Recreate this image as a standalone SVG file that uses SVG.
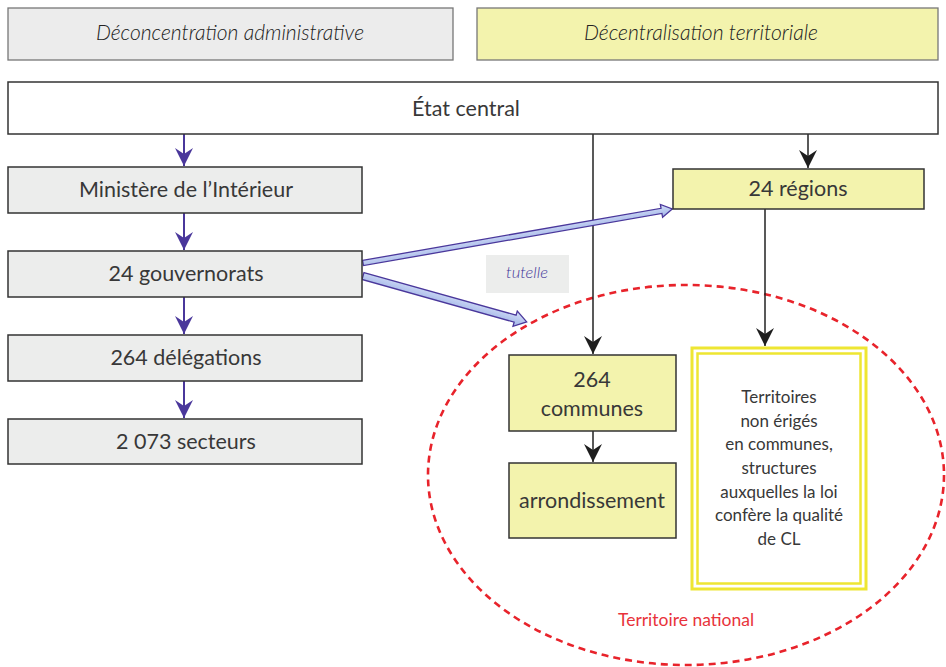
<svg xmlns="http://www.w3.org/2000/svg" width="946" height="667" viewBox="0 0 946 667">
  <defs>
    <style>
      .lbl { font-family: Lato, "Open Sans", "Liberation Sans", sans-serif; font-weight: 400; fill: #383838; text-anchor: middle; }
      .head { font-style: italic; font-weight: 300; font-size: 21px; fill: #222; }
      .gray { fill: #ecedec; stroke: #333; stroke-width: 1.5; }
      .yel { fill: #f3f3ad; stroke: #333; stroke-width: 1.5; }
      .purple { stroke: #4a379b; stroke-width: 2; fill: none; }
      .black { stroke: #222; stroke-width: 1.5; fill: none; }
      .tut { fill: url(#tutGrad); stroke: #4a379b; stroke-width: 1.3; }
    </style>
    <marker id="headP" markerUnits="userSpaceOnUse" markerWidth="20" markerHeight="20" viewBox="-19 -10 20 20" refX="0" refY="0" orient="auto">
      <path d="M0,0 L-18,-9 L-12,0 L-18,9 Z" fill="#4a379b"/>
    </marker>
    <marker id="headB" markerUnits="userSpaceOnUse" markerWidth="20" markerHeight="20" viewBox="-19 -10 20 20" refX="0" refY="0" orient="auto">
      <path d="M0,0 L-18,-9 L-12,0 L-18,9 Z" fill="#1e1e1e"/>
    </marker>
    <linearGradient id="tutGrad" x1="0" y1="0" x2="0" y2="1">
      <stop offset="0" stop-color="#d6e0f8"/>
      <stop offset="1" stop-color="#9fb3e6"/>
    </linearGradient>
  </defs>

  <rect width="946" height="667" fill="#fff"/>

  <!-- column headers -->
  <g id="hdr-deconcentration">
    <rect x="8" y="8" width="445" height="52" fill="#ececec" stroke="#777" stroke-width="1.3"/>
    <text class="lbl head" x="230" y="40" textLength="268" lengthAdjust="spacingAndGlyphs">Déconcentration administrative</text>
  </g>
  <g id="hdr-decentralisation">
    <rect x="477" y="8" width="461" height="52" fill="#f3f3ad" stroke="#777" stroke-width="1.3"/>
    <text class="lbl head" x="701" y="40" textLength="234" lengthAdjust="spacingAndGlyphs">Décentralisation territoriale</text>
  </g>

  <!-- tutelle marker -->
  <g id="tutelle">
    <rect x="486" y="255" width="83" height="38" fill="#ecedec"/>
    <text x="527" y="278" font-family="Lato, 'Open Sans', sans-serif" font-style="italic" font-weight="300" font-size="16.5" fill="#43379a" text-anchor="middle">tutelle</text>
  </g>

  <!-- national territory outline -->
  <g id="territoire-national">
    <ellipse cx="686" cy="475" rx="258" ry="190" fill="none" stroke="#e8232b" stroke-width="2.6" stroke-dasharray="7 5"/>
    <text x="686" y="626" font-family="Lato, 'Open Sans', sans-serif" font-size="17.5" fill="#e8333b" text-anchor="middle">Territoire national</text>
  </g>

  <!-- connectors -->
  <g id="connectors">
    <line class="purple" x1="184" y1="134" x2="184" y2="166" marker-end="url(#headP)"/>
    <line class="purple" x1="184" y1="213" x2="184" y2="250" marker-end="url(#headP)"/>
    <line class="purple" x1="184" y1="297" x2="184" y2="334" marker-end="url(#headP)"/>
    <line class="purple" x1="184" y1="381" x2="184" y2="418" marker-end="url(#headP)"/>

    <line class="black" x1="808" y1="134" x2="808" y2="168" marker-end="url(#headB)"/>
    <line class="black" x1="593" y1="134" x2="593" y2="354" marker-end="url(#headB)"/>
    <line class="black" x1="765" y1="209" x2="765" y2="346" marker-end="url(#headB)"/>
    <line class="black" x1="593" y1="431" x2="593" y2="462" marker-end="url(#headB)"/>

    <!-- tutelle block arrows -->
    <polygon class="tut" transform="translate(363,263) rotate(-9.91)" points="0,-2.6 303,-2.6 303,-6.5 314,0 303,6.5 303,2.6 0,2.6"/>
    <polygon class="tut" transform="translate(363,276) rotate(15.67)" points="0,-3.6 158,-3.6 158,-8 170,0 158,8 158,3.6 0,3.6"/>
  </g>

  <!-- central state -->
  <g id="etat-central">
    <rect x="8" y="82" width="930" height="52" fill="#fff" stroke="#333" stroke-width="1.5"/>
    <text class="lbl" x="466" y="116" font-size="21.5">État central</text>
  </g>

  <!-- deconcentrated chain -->
  <g id="ministere">
    <rect class="gray" x="8" y="167" width="354" height="46"/>
    <text class="lbl" x="186" y="197" font-size="21.5">Ministère de l’Intérieur</text>
  </g>
  <g id="gouvernorats">
    <rect class="gray" x="8" y="251" width="354" height="46"/>
    <text class="lbl" x="186" y="281" font-size="21.5">24 gouvernorats</text>
  </g>
  <g id="delegations">
    <rect class="gray" x="8" y="335" width="354" height="46"/>
    <text class="lbl" x="186" y="365" font-size="21.5">264 délégations</text>
  </g>
  <g id="secteurs">
    <rect class="gray" x="8" y="419" width="354" height="45"/>
    <text class="lbl" x="186" y="449" font-size="21.5">2 073 secteurs</text>
  </g>

  <!-- decentralised chain -->
  <g id="regions">
    <rect class="yel" x="673" y="169" width="251" height="40"/>
    <text class="lbl" x="798" y="196" font-size="21.5">24 régions</text>
  </g>
  <g id="communes">
    <rect class="yel" x="509" y="355" width="167" height="76"/>
    <text class="lbl" x="592" y="387" font-size="21.5">264</text>
    <text class="lbl" x="592" y="416" font-size="21.5">communes</text>
  </g>
  <g id="arrondissement">
    <rect class="yel" x="509" y="463" width="167" height="75"/>
    <text class="lbl" x="592" y="508" font-size="21.5">arrondissement</text>
  </g>
  <g id="territoires-cl">
    <rect x="692" y="348" width="174" height="241" fill="#fff" stroke="#eee632" stroke-width="3"/>
    <rect x="697.5" y="353.5" width="163" height="230" fill="none" stroke="#eee632" stroke-width="2.5"/>
    <g class="lbl" font-size="17">
      <text x="779" y="403">Territoires</text>
      <text x="779" y="427">non érigés</text>
      <text x="779" y="450">en communes,</text>
      <text x="779" y="474">structures</text>
      <text x="779" y="498">auxquelles la loi</text>
      <text x="779" y="521">confère la qualité</text>
      <text x="779" y="545">de CL</text>
    </g>
  </g>
</svg>
